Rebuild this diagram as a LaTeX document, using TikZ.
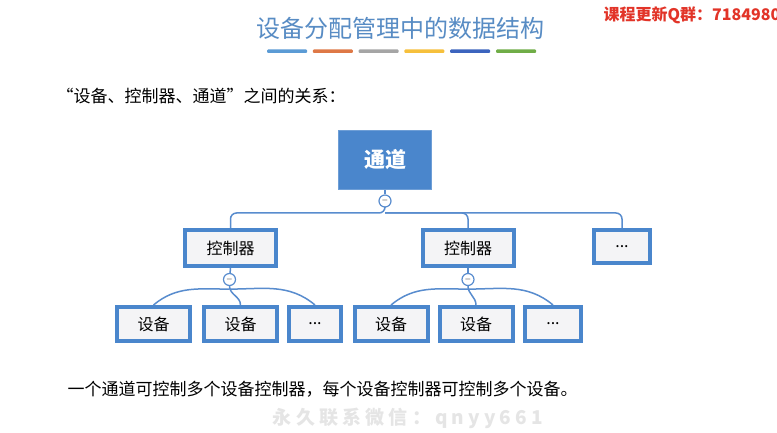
\documentclass[tikz,border=0pt]{standalone}
\usepackage{fontspec}
\setmainfont{Noto Sans CJK SC}
\usepackage{tikz}
\usetikzlibrary{positioning,calc}

\definecolor{titleblue}{RGB}{88,140,196}
\definecolor{boxblue}{RGB}{74,134,204}
\definecolor{lineblue}{RGB}{88,140,206}
\definecolor{boxfill}{RGB}{244,244,246}
\definecolor{adred}{RGB}{226,52,40}
\definecolor{barblue}{RGB}{91,155,213}
\definecolor{barorange}{RGB}{222,120,70}
\definecolor{bargray}{RGB}{165,165,165}
\definecolor{bargold}{RGB}{246,192,60}
\definecolor{bardark}{RGB}{60,100,190}
\definecolor{bargreen}{RGB}{112,173,71}

\begin{document}
\begin{tikzpicture}[
  x=1pt, y=-1pt,
  title/.style={font=\fontsize{24}{28}\selectfont, text=titleblue},
  plain/.style={anchor=west, font=\fontsize{17}{20}\selectfont},
  chanbox/.style={fill=boxblue, draw=boxblue!80!white, line width=1pt, minimum width=93pt, minimum height=59pt, inner sep=0pt, text=white, font=\fontsize{21}{24}\selectfont\bfseries},
  ctrlbox/.style={draw=boxblue, fill=boxfill, line width=4pt, minimum width=91pt, minimum height=36pt, inner sep=0pt, font=\fontsize{16}{19}\selectfont},
  devbox/.style={ctrlbox, minimum width=73pt, minimum height=34pt},
  fold/.style={circle, draw=lineblue, fill=white, line width=1.2pt, minimum size=12pt, inner sep=0pt, font=\fontsize{8}{8}\selectfont},
  link/.style={draw=lineblue, line width=1.5pt}
]
\useasboundingbox[fill=white] (0,0) rectangle (777,433);

% Header
\node[title] (head) at (400,28) {设备分配管理中的数据结构};
\foreach \c [count=\i] in {barblue,barorange,bargray,bargold,bardark,bargreen}
  \fill[\c, rounded corners=1pt] ({267+(\i-1)*45.8},49.5) rectangle ++(40,3.5);
\node[anchor=west, text=adred, font=\fontsize{16}{19}\selectfont\bfseries] (ad) at (600,15) {课程更新Q群：7184980};

\node[plain] (intro) at (53,96) {“设备、控制器、通道”之间的关系：};

% Tree
\node[chanbox] (chan) at (385,160) {通道};
\node[fold] (fold0) at (385,201) {$-$};

\node[ctrlbox] (ctrlA) at (230.5,248) {控制器};
\node[ctrlbox] (ctrlB) at (468,248) {控制器};
\node[ctrlbox, minimum width=56pt, minimum height=33pt] (moreC) at (622,246.5) {...};

\coordinate (bus) at (385,213);
\draw[link] (chan.south) -- (fold0);
\draw[link, rounded corners=6pt] (fold0) -- (bus) -| (ctrlA.north);
\draw[link, rounded corners=6pt] (bus) -| (ctrlB.north);
\draw[link, rounded corners=6pt] (bus) -| (moreC.north);

\node[fold] (fold1) at (229.5,279.5) {$-$};
\node[fold] (fold2) at (468,279.5) {$-$};
\draw[link] (ctrlA.south) -- (fold1);
\draw[link] (ctrlB.south) -- (fold2);

\node[devbox] (devA1) at (153.5,324) {设备};
\node[devbox] (devA2) at (240.5,324) {设备};
\node[devbox, minimum width=52pt] (moreA) at (315,324) {...};
\node[devbox] (devB1) at (391,324) {设备};
\node[devbox] (devB2) at (476,324) {设备};
\node[devbox, minimum width=56pt] (moreB) at (553,324) {...};

\coordinate (hub1) at ($(fold1.south)+(0,3)$);
\coordinate (hub2) at ($(fold2.south)+(0,3)$);
\draw[link] (fold1.south) to[out=-90,in=90] (devA2.north);
\draw[link] (hub1) to[out=180,in=40] (devA1.north);
\draw[link] (hub1) to[out=0,in=140] (moreA.north);
\draw[link] (fold2.south) to[out=-90,in=90] (devB2.north);
\draw[link] (hub2) to[out=180,in=40] (devB1.north);
\draw[link] (hub2) to[out=0,in=140] (moreB.north);

% Footer
\node[plain] (note) at (64,389) {一个通道可控制多个设备控制器，每个设备控制器可控制多个设备。};
\node[text=black!10, font=\fontsize{19}{22}\selectfont\bfseries\addfontfeature{LetterSpace=22}] (mark) at (408,418) {永久联系微信：qnyy661};
\end{tikzpicture}
\end{document}
